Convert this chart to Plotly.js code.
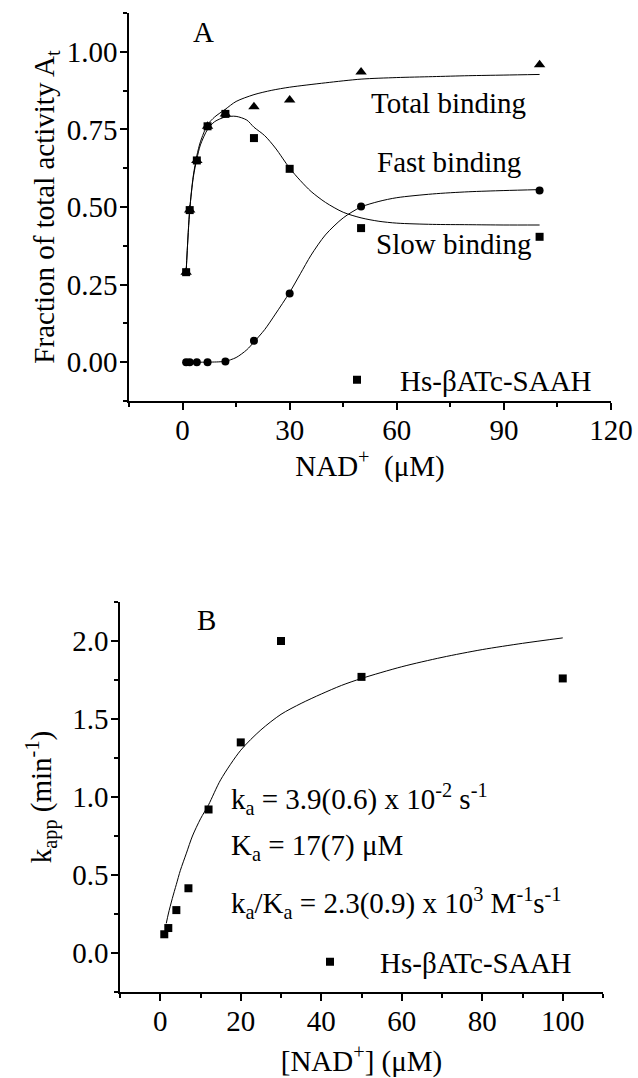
<!DOCTYPE html>
<html>
<head>
<meta charset="utf-8">
<script src="https://cdn.plot.ly/plotly-3.0.1.min.js"></script>
<style>
  html, body { margin: 0; padding: 0; background: #fff; font-family: 'Liberation Serif', serif; }
  #chart { width: 638px; height: 1078px; }
</style>
</head>
<body>
<div id="chart"></div>
<script>
// ---------- Panel A data ----------
const concA = [1, 2, 4, 7, 12, 20, 30, 50, 100];          // NAD+ (uM)
const totalA = [0.29, 0.49, 0.65, 0.76, 0.80, 0.823, 0.845, 0.935, 0.958];
const fastA  = [0.29, 0.49, 0.65, 0.76, 0.80, 0.722, 0.623, 0.432, 0.404];
const slowA  = [0.0, 0.0, 0.0, 0.0, 0.002, 0.069, 0.221, 0.502, 0.553];

// fitted curves
const totalFitX = [1, 2, 3, 4, 5, 7, 9, 12, 15, 20, 25, 30, 40, 50, 60, 70, 80, 90, 100];
const totalFitY = [0.29, 0.49, 0.60, 0.665, 0.71, 0.765, 0.79, 0.815, 0.84, 0.862, 0.876, 0.886, 0.90, 0.912, 0.917, 0.920, 0.923, 0.925, 0.927];
const fastFitX = [1, 2, 3, 4, 5, 7, 9, 12, 15, 18, 20, 23, 26, 30, 33, 36, 40, 45, 50, 55, 60, 70, 80, 90, 100];
const fastFitY = [0.29, 0.49, 0.595, 0.655, 0.70, 0.75, 0.775, 0.79, 0.792, 0.78, 0.757, 0.73, 0.69, 0.625, 0.585, 0.55, 0.515, 0.483, 0.465, 0.454, 0.448, 0.444, 0.443, 0.442, 0.442];
const slowFitX = [1, 5, 10, 12, 15, 18, 20, 23, 26, 30, 33, 36, 40, 45, 50, 55, 60, 70, 80, 90, 100];
const slowFitY = [0.0, 0.0, 0.001, 0.003, 0.015, 0.04, 0.065, 0.105, 0.155, 0.225, 0.285, 0.345, 0.41, 0.465, 0.50, 0.518, 0.53, 0.542, 0.549, 0.553, 0.556];

// ---------- Panel B data ----------
const concB = [1, 2, 4, 7, 12, 20, 30, 50, 100];
const kapp  = [0.12, 0.16, 0.275, 0.415, 0.92, 1.35, 2.0, 1.77, 1.76];
const fitBX = [1.5, 2, 3, 4, 5, 6.5, 8, 10, 12, 15, 20, 25, 30, 35, 40, 45, 50, 60, 70, 80, 90, 100];
const fitBY = [0.19, 0.25, 0.35, 0.44, 0.53, 0.64, 0.75, 0.86, 0.95, 1.11, 1.30, 1.43, 1.53, 1.60, 1.66, 1.715, 1.76, 1.835, 1.895, 1.945, 1.985, 2.02];

const seriesName = 'Hs-βATc-SAAH';
const labelsA = ['Total binding', 'Fast binding', 'Slow binding'];

// ---------- styling ----------
const FONT = 'Liberation Serif';
const FS = 29;
const INK = '#000';
const lineStyle = {color: INK, width: 1, shape: 'spline', smoothing: 0.8};
const f = () => ({family: FONT, size: FS, color: INK});

const traces = [
  {x: totalFitX, y: totalFitY, mode: 'lines', line: lineStyle, xaxis: 'x', yaxis: 'y', showlegend: false, hoverinfo: 'skip'},
  {x: fastFitX, y: fastFitY, mode: 'lines', line: lineStyle, xaxis: 'x', yaxis: 'y', showlegend: false, hoverinfo: 'skip'},
  {x: slowFitX, y: slowFitY, mode: 'lines', line: lineStyle, xaxis: 'x', yaxis: 'y', showlegend: false, hoverinfo: 'skip'},
  {x: concA, y: fastA, mode: 'markers', name: seriesName, marker: {symbol: 'square', size: 8, color: INK}, xaxis: 'x', yaxis: 'y', showlegend: true, legend: 'legend'},
  {x: concA, y: slowA, mode: 'markers', marker: {symbol: 'circle', size: 8, color: INK}, xaxis: 'x', yaxis: 'y', showlegend: false},
  {x: concA, y: totalA, mode: 'markers', marker: {symbol: 'triangle-up', size: 10, color: INK}, xaxis: 'x', yaxis: 'y', showlegend: false},
  {x: fitBX, y: fitBY, mode: 'lines', line: lineStyle, xaxis: 'x2', yaxis: 'y2', showlegend: false, hoverinfo: 'skip'},
  {x: concB, y: kapp, mode: 'markers', name: seriesName, marker: {symbol: 'square', size: 8, color: INK}, xaxis: 'x2', yaxis: 'y2', showlegend: true, legend: 'legend2'}
];

const W = 638, H = 1078;
const px = v => v / W;
const py = v => 1 - v / H;

const axisBase = {
  showline: true, linecolor: INK, linewidth: 1.5, mirror: false,
  showgrid: false, zeroline: false,
  ticks: 'outside', ticklen: 7, tickwidth: 1.5, tickcolor: INK,
  tickfont: f(),
  automargin: false
};

const layout = {
  width: W, height: H,
  margin: {l: 0, r: 0, t: 0, b: 0},
  paper_bgcolor: '#fff', plot_bgcolor: '#fff',
  font: f(),
  xaxis: Object.assign({}, axisBase, {
    domain: [px(129), px(611)], range: [-15, 120], anchor: 'y',
    tick0: 0, dtick: 30, ticklabelstandoff: -5,
    minor: {ticks: 'outside', ticklen: 4, tickwidth: 1.5, tickcolor: INK, dtick: 15, tick0: 0},
    title: {text: 'NAD<sup>+</sup>  (μM)', font: f(), standoff: 2}
  }),
  yaxis: Object.assign({}, axisBase, {
    domain: [py(401), py(13)], range: [-0.125, 1.125], anchor: 'x',
    tick0: 0, dtick: 0.25, tickformat: '.2f', ticklabelstandoff: -3,
    minor: {ticks: 'outside', ticklen: 4, tickwidth: 1.5, tickcolor: INK, dtick: 0.125, tick0: 0},
    title: {text: 'Fraction of total activity A<sub>t</sub>', font: f(), standoff: 4}
  }),
  xaxis2: Object.assign({}, axisBase, {
    domain: [px(120), px(603)], range: [-10, 110], anchor: 'y2',
    tick0: 0, dtick: 20, ticklabelstandoff: -5,
    minor: {ticks: 'outside', ticklen: 4, tickwidth: 1.5, tickcolor: INK, dtick: 10, tick0: 0},
    title: {text: '[NAD<sup>+</sup>] (μM)', font: f(), standoff: 20}
  }),
  yaxis2: Object.assign({}, axisBase, {
    domain: [py(992), py(602)], range: [-0.25, 2.25], anchor: 'x2',
    tick0: 0, dtick: 0.5, tickformat: '.1f', ticklabelstandoff: -3,
    minor: {ticks: 'outside', ticklen: 4, tickwidth: 1.5, tickcolor: INK, dtick: 0.25, tick0: 0},
    title: {text: 'k<sub>app</sub> (min<sup>-1</sup>)', font: f(), standoff: 12}
  }),
  legend: {
    x: px(314), xanchor: 'left', y: py(380), yanchor: 'middle',
    bgcolor: 'rgba(0,0,0,0)', borderwidth: 0,
    font: f(), itemwidth: 76
  },
  legend2: {
    x: px(280), xanchor: 'left', y: py(962), yanchor: 'middle',
    bgcolor: 'rgba(0,0,0,0)', borderwidth: 0,
    font: f(), itemwidth: 90
  },
  annotations: [
    {xref: 'x', yref: 'y', x: 6, y: 1.065, text: 'A', showarrow: false, font: f()},
    {xref: 'x', yref: 'y', x: 74.5, y: 0.835, text: labelsA[0], showarrow: false, font: f()},
    {xref: 'x', yref: 'y', x: 74.5, y: 0.645, text: labelsA[1], showarrow: false, font: f()},
    {xref: 'x', yref: 'y', x: 76, y: 0.38, text: labelsA[2], showarrow: false, font: f()},
    {xref: 'x2', yref: 'y2', x: 11.5, y: 2.135, text: 'B', showarrow: false, font: f()},
    {xref: 'x2', yref: 'y2', x: 17.2, y: 0.99, xanchor: 'left', text: 'k<sub>a</sub> = 3.9(0.6) x 10<sup>-2</sup> s<sup>-1</sup>', showarrow: false, font: f()},
    {xref: 'x2', yref: 'y2', x: 17.2, y: 0.68, xanchor: 'left', text: 'K<sub>a</sub> = 17(7) μM', showarrow: false, font: f()},
    {xref: 'x2', yref: 'y2', x: 17.2, y: 0.32, xanchor: 'left', text: 'k<sub>a</sub>/K<sub>a</sub> = 2.3(0.9) x 10<sup>3</sup> M<sup>-1</sup>s<sup>-1</sup>', showarrow: false, font: f()}
  ]
};

Plotly.newPlot('chart', traces, layout, {displayModeBar: false});
</script>
</body>
</html>
